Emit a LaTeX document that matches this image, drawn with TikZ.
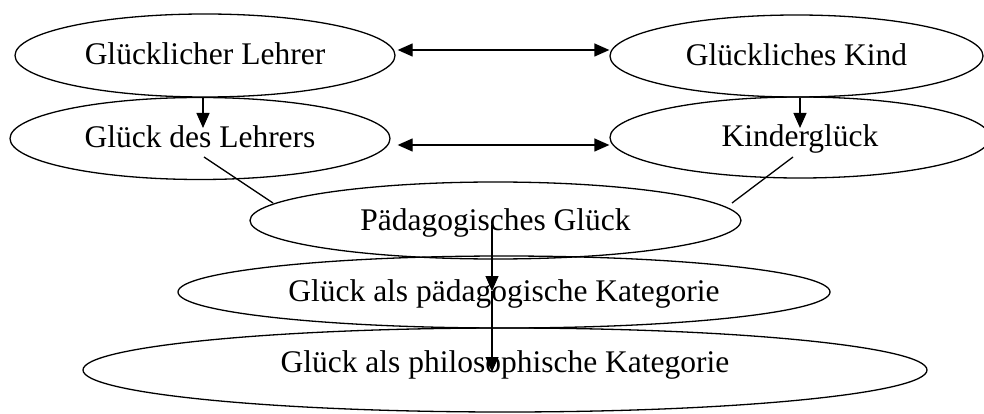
\documentclass[tikz,border=0pt]{standalone}
\usepackage{fontspec}
\setmainfont{Liberation Serif}
\usetikzlibrary{shapes.geometric,arrows.meta,calc}
\tikzset{
  oval/.style={draw, ellipse, line width=1.3pt, inner sep=0pt,
    text height=24pt, text depth=5pt,
    font=\fontsize{31.5}{36}\selectfont},
  conn/.style={line width=1.3pt},
  tip/.style={conn, -{Triangle[length=15pt,width=13pt]}},
  dbltip/.style={conn, {Triangle[length=15pt,width=13pt]}-{Triangle[length=15pt,width=13pt]}}
}
\begin{document}
\begin{tikzpicture}[x=1pt,y=-1pt]
\useasboundingbox (0,0) rectangle (984,414);
\node[oval, minimum width=380pt, minimum height=83pt] (gl) at (205,55.5) {Glücklicher Lehrer};
\node[oval, minimum width=373pt, minimum height=82pt] (gk) at (796.5,56) {Glückliches Kind};
\node[oval, minimum width=380pt, minimum height=82pt] (gd) at (200,138.5) {Glück des Lehrers};
\node[oval, minimum width=380pt, minimum height=81pt] (kg) at (800,137.5) {Kinderglück};
\node[oval, minimum width=491pt, minimum height=77pt] (pg) at (495.5,220.5) {Pädagogisches Glück};
\node[oval, minimum width=652pt, minimum height=72pt] (pk) at (504,292) {Glück als pädagogische Kategorie};
\node[oval, minimum width=844pt, minimum height=84pt, text height=16pt, text depth=12pt] (ph) at (505,370) {Glück als philosophische Kategorie};

\draw[dbltip] ($(gl.east)+(2,-5.5)$) -- ($(gk.west)+(0,-6)$);
\draw[dbltip] ($(gd.east)+(7,6.5)$) -- ($(kg.west)+(0,7.5)$);
\draw[tip] ($(gl.south)+(-2,0)$) -- ($(gd.center)+(3,-10.5)$);
\draw[tip] ($(gk.south)+(3.5,0)$) -- ($(kg.center)+(0,-9.5)$);
\draw[conn] ($(gd.center)+(4,18.5)$) -- ($(pg.center)+(-222.5,-17.5)$);
\draw[conn] ($(kg.center)+(-7,19.5)$) -- ($(pg.center)+(236.5,-17.5)$);
\draw[tip] ($(pg.center)+(-3.5,4.5)$) -- ($(pk.center)+(-12,-1)$);
\draw[tip] ($(pk.center)+(-12,-1)$) -- ($(ph.center)+(-13,2)$);
\end{tikzpicture}
\end{document}
